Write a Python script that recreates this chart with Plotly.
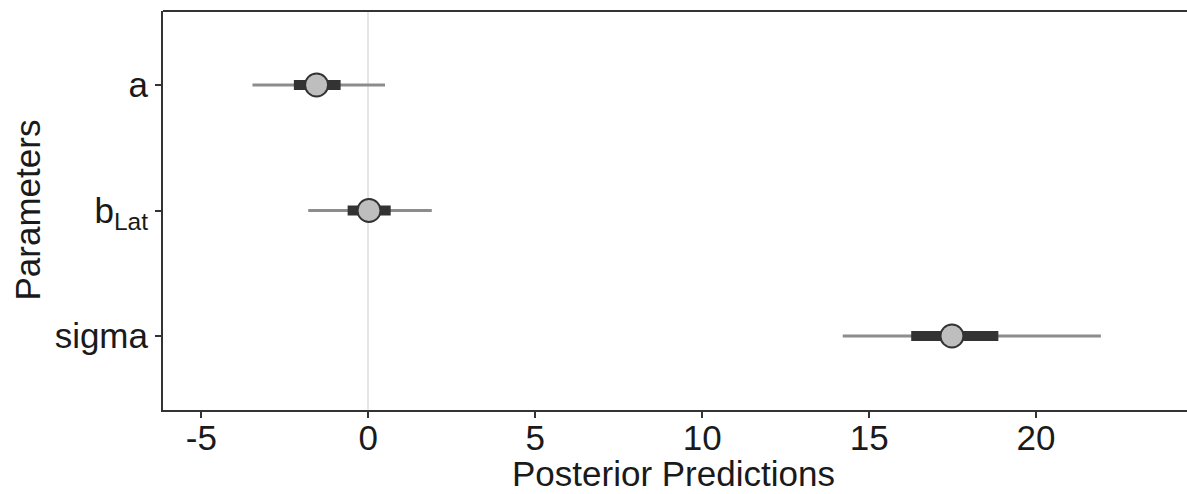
import plotly.graph_objects as go

# ---- data ----
params = ["a", "b<sub>Lat</sub>", "sigma"]
median = [-1.55, 0.02, 17.48]
inner_lo = [-2.23, -0.62, 16.26]
inner_hi = [-0.83, 0.67, 18.87]
outer_lo = [-3.47, -1.80, 14.21]
outer_hi = [0.50, 1.90, 21.94]
x_ticks = [-5, 0, 5, 10, 15, 20]

ypos = list(range(len(params)))

def segs(lo, hi):
    xs, ys = [], []
    for l, h, y in zip(lo, hi, ypos):
        xs += [l, h, None]
        ys += [y, y, None]
    return xs, ys

fig = go.Figure()
ox, oy = segs(outer_lo, outer_hi)
fig.add_trace(go.Scatter(x=ox, y=oy, mode="lines",
                         line=dict(color="#8c8c8c", width=3), hoverinfo="skip"))
ix, iy = segs(inner_lo, inner_hi)
fig.add_trace(go.Scatter(x=ix, y=iy, mode="lines",
                         line=dict(color="#333333", width=10), hoverinfo="skip"))
fig.add_trace(go.Scatter(x=median, y=ypos, mode="markers",
                         marker=dict(size=23, color="#bebebe",
                                     line=dict(color="#333333", width=2))))

font = dict(family="Liberation Sans, Arial, sans-serif", size=35, color="#1a1a1a")

# panel is cropped at the right edge of the picture: let it run a little past it
fig.update_layout(
    width=1197, height=494,
    margin=dict(l=163, r=0, t=11, b=84),
    paper_bgcolor="white", plot_bgcolor="white",
    showlegend=False,
    font=font,
    xaxis=dict(range=[-6.15, 24.82], tickvals=x_ticks,
               ticktext=[str(v) for v in x_ticks],
               showgrid=False, zeroline=True, zerolinecolor="#e6e6e6",
               zerolinewidth=1.5,
               showline=True, linecolor="#333333", linewidth=2, mirror=False,
               ticks="outside", ticklen=6, tickwidth=1.5, tickcolor="#333333",
               ticklabelstandoff=-10,
               tickfont=font),
    yaxis=dict(range=[2.59, -0.59], tickvals=ypos, ticktext=params,
               showgrid=False, zeroline=False,
               showline=True, linecolor="#333333", linewidth=2, mirror=False,
               ticks="outside", ticklen=6, tickwidth=1.5, tickcolor="#333333",
               tickfont=font),
)

# top border of the panel
fig.add_shape(type="line", xref="paper", yref="paper", x0=0, x1=1, y0=1, y1=1,
              line=dict(color="#333333", width=2), layer="above")

fig.add_annotation(text="Posterior Predictions", xref="x", yref="paper",
                   x=9.15, y=0, yshift=-63, xanchor="center", yanchor="middle",
                   showarrow=False, font=font)
fig.add_annotation(text="Parameters", xref="paper", yref="paper",
                   x=0, y=0.5, xshift=-136, xanchor="center", yanchor="middle",
                   textangle=-90, showarrow=False, font=font)

fig.write_html("out.html", config={"displayModeBar": False},
               post_script="document.body.style.margin='0';document.body.style.overflow='hidden';")
